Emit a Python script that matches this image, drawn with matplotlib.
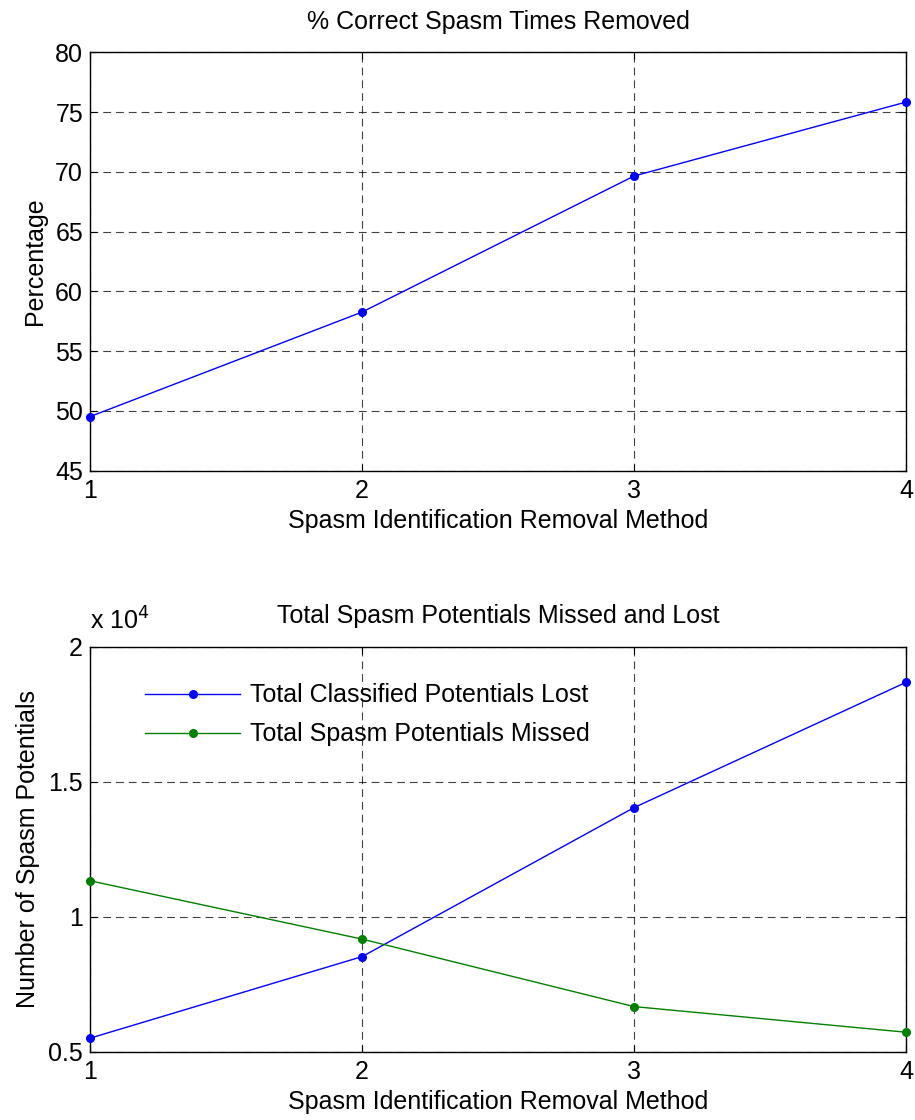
import matplotlib.pyplot as plt
from matplotlib.ticker import FuncFormatter

plt.rcParams['font.family'] = ['Liberation Sans', 'DejaVu Sans']

methods = [1, 2, 3, 4]
pct_removed = [49.53, 58.27, 69.65, 75.84]
pot_lost = [5500, 8520, 14040, 18680]
pot_missed = [11330, 9170, 6670, 5720]

top_yticks = [45, 50, 55, 60, 65, 70, 75, 80]
bot_yticks = [5000, 10000, 15000, 20000]

fig = plt.figure(figsize=(9.15, 11.2), dpi=100)
ax1 = fig.add_axes([0.0984, 0.5797, 0.8918, 0.3736])
ax2 = fig.add_axes([0.0984, 0.0610, 0.8918, 0.3616])

grid_kw = dict(color='black', linestyle=(0, (7, 4.5)), linewidth=0.8, alpha=0.75)
FS = 18


def style(ax):
    ax.set_xlim(1, 4)
    ax.set_xticks(methods)
    ax.tick_params(direction='in', length=5, labelsize=FS, top=True, right=True, pad=5)
    ax.tick_params(axis='x', pad=6)
    ax.grid(True, **grid_kw)
    for s in ax.spines.values():
        s.set_linewidth(1.0)
    ax.set_xlabel('Spasm Identification Removal Method', fontsize=FS, labelpad=4)


ax1.plot(methods, pct_removed, color='#0000ff', marker='o', markersize=5.5, linewidth=1, clip_on=False, zorder=3)
ax1.set_ylim(45, 80)
ax1.set_yticks(top_yticks)
style(ax1)
ax1.set_ylabel('Percentage', fontsize=FS, labelpad=6)
ax1.set_title('% Correct Spasm Times Removed', fontsize=FS, pad=17)

ax2.plot(methods, pot_lost, color='#0000ff', marker='o', markersize=5.5, linewidth=1, clip_on=False, zorder=3,
         label='Total Classified Potentials Lost')
ax2.plot(methods, pot_missed, color='#008000', marker='o', markersize=5.5, linewidth=1, clip_on=False, zorder=3,
         label='Total Spasm Potentials Missed')
ax2.set_ylim(5000, 20000)
ax2.set_yticks(bot_yticks)
ax2.yaxis.set_major_formatter(FuncFormatter(lambda v, p: ('%g' % (v / 1e4))))
style(ax2)
ax2.set_ylabel('Number of Spasm Potentials', fontsize=FS, labelpad=6)
ax2.set_title('Total Spasm Potentials Missed and Lost', fontsize=FS, pad=17)
ax2.text(0.0, 1.03, r'x 10$^{4}$', transform=ax2.transAxes, fontsize=FS, ha='left', va='bottom')
ax2.legend(loc='upper left', bbox_to_anchor=(0.04, 0.965), frameon=False, fontsize=FS,
           handlelength=3.8, handletextpad=0.4, labelspacing=0.6)

fig.savefig('out.png', dpi=100)
